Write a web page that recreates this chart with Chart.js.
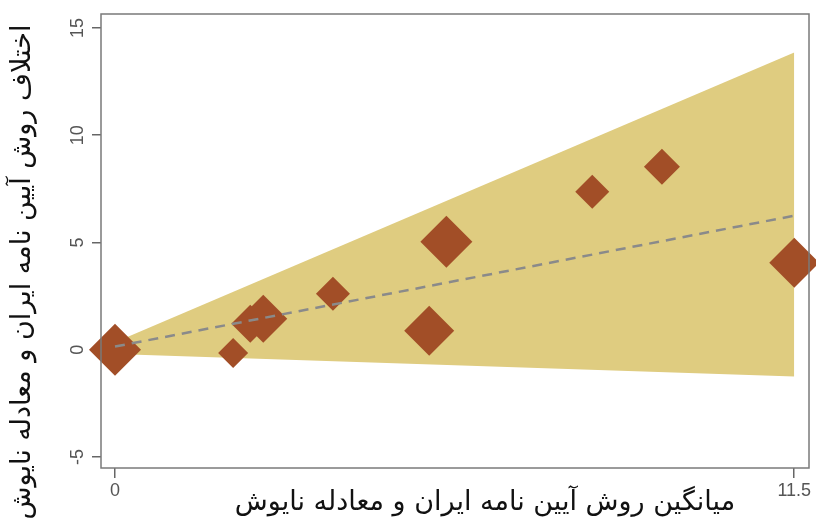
<!DOCTYPE html>
<html>
<head>
<meta charset="utf-8">
<script src="https://cdn.jsdelivr.net/npm/chart.js@4"></script>
<style>html,body{margin:0;padding:0;background:#fff;}</style>
</head>
<body>
<canvas id="chart" width="816" height="525"></canvas>
<script>
const xTitle = 'میانگین روش آیین نامه ایران و معادله نایوش';
const yTitle = 'اختلاف روش آیین نامه ایران و معادله نایوش';
const xTicks = [0, 11.5];
const yTicks = [-5, 0, 5, 10, 15];

// observations (diamonds), marker weight = relative size
const pointsX = [0, 2.0, 2.29, 2.51, 3.69, 5.32, 5.61, 8.08, 9.26, 11.5];
const pointsY = [0, -0.15, 1.21, 1.45, 2.61, 0.89, 5.03, 7.37, 8.53, 4.06];
const weights = [2.6, 1.5, 1.9, 2.4, 1.7, 2.5, 2.6, 1.7, 1.8, 2.5];

// fitted line and its confidence band
const fitX = [0, 11.5];
const fitY = [0.15, 6.25];
const bandUpper = [0.35, 13.85];
const bandLower = [-0.2, -1.25];

const toXY = (xs, ys) => xs.map((x, i) => ({x: x, y: ys[i]}));

const frameAndTitles = {
    id: 'frameAndTitles',
    afterDatasetsDraw(chart) {
        const {ctx, chartArea: a} = chart;
        ctx.save();
        ctx.strokeStyle = '#7a7a7a';
        ctx.lineWidth = 1.5;
        ctx.strokeRect(a.left, a.top, a.right - a.left, a.bottom - a.top);
        ctx.restore();
    },
    afterDraw(chart) {
        const {ctx, chartArea: a} = chart;
        ctx.save();
        ctx.fillStyle = '#111';
        ctx.font = '27px "DejaVu Sans"';
        ctx.textAlign = 'center';
        ctx.textBaseline = 'middle';
        ctx.direction = 'rtl';
        ctx.fillText(xTitle, (a.left + a.right) / 2 + 30, 503);
        ctx.translate(23, (a.top + a.bottom) / 2 + 31);
        ctx.rotate(-Math.PI / 2);
        ctx.fillText(yTitle, 0, 0);
        ctx.restore();
    }
};

const tickFont = {family: '"Liberation Sans", Arial, sans-serif', size: 18};

new Chart(document.querySelector('#chart').getContext('2d'), {
    type: 'scatter',
    data: {
        datasets: [
            {
                type: 'line',
                label: 'Fit',
                data: toXY(fitX, fitY),
                borderColor: '#8a8a8a',
                borderWidth: 2.5,
                borderDash: [10, 7],
                pointRadius: 0,
                fill: false,
                order: 0
            },
            {
                label: 'Points',
                data: toXY(pointsX, pointsY),
                pointStyle: 'rectRot',
                pointRadius: weights.map(w => w * 10),
                pointHoverRadius: weights.map(w => w * 10),
                backgroundColor: '#a24e27',
                borderWidth: 0,
                clip: false,
                order: 1
            },
            {
                type: 'line',
                label: 'Upper',
                data: toXY(fitX, bandUpper),
                borderWidth: 0,
                pointRadius: 0,
                backgroundColor: '#dfcc80',
                fill: '+1',
                order: 2
            },
            {
                type: 'line',
                label: 'Lower',
                data: toXY(fitX, bandLower),
                borderWidth: 0,
                pointRadius: 0,
                fill: false,
                order: 3
            }
        ]
    },
    options: {
        responsive: false,
        animation: false,
        layout: {autoPadding: false, padding: {top: 14, right: 7, left: 0, bottom: 0}},
        plugins: {legend: {display: false}, tooltip: {enabled: false}},
        scales: {
            x: {
                type: 'linear',
                min: -0.237,
                max: 11.75,
                afterBuildTicks: s => { s.ticks = xTicks.map(v => ({value: v})); },
                afterFit: s => { s.height = 57; s.paddingLeft = 0; s.paddingRight = 0; },
                grid: {display: true, drawOnChartArea: false, drawTicks: true, tickLength: 10, color: '#666', lineWidth: 1.5},
                border: {display: false},
                ticks: {font: tickFont, color: '#555', padding: 2, maxRotation: 0}
            },
            y: {
                type: 'linear',
                min: -5.51,
                max: 15.65,
                afterBuildTicks: s => { s.ticks = yTicks.map(v => ({value: v})); },
                afterFit: s => { s.width = 101; s.paddingTop = 0; s.paddingBottom = 0; },
                grid: {display: true, drawOnChartArea: false, drawTicks: true, tickLength: 9, color: '#666', lineWidth: 1.5},
                border: {display: false},
                ticks: {font: tickFont, color: '#555', padding: 4, minRotation: 90, maxRotation: 90, crossAlign: 'center'}
            }
        }
    },
    plugins: [frameAndTitles]
});
</script>
</body>
</html>
